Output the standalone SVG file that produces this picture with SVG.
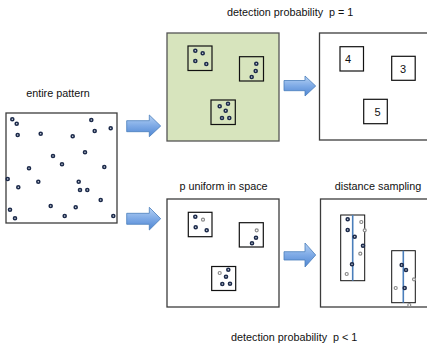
<svg xmlns="http://www.w3.org/2000/svg" width="427" height="345" viewBox="0 0 427 345">
<defs>
<linearGradient id="ag" x1="0" y1="0" x2="0" y2="1">
<stop offset="0" stop-color="#b6d2f4"/>
<stop offset="0.5" stop-color="#7eaae6"/>
<stop offset="1" stop-color="#4f86d2"/>
</linearGradient>
<circle id="d" r="1.5" fill="#dfe6f0" stroke="#1c2a4a" stroke-width="1.6"/>
<circle id="g" r="1.5" fill="#fff" stroke="#8a8a8a" stroke-width="1.2"/>
</defs>
<style>
.big{fill:#fff;stroke:#3c3c3c;stroke-width:1.3}
.grn{fill:#d7e4bd;stroke:#555;stroke-width:1.3}
.sm{fill:none;stroke:#111;stroke-width:1.2}
.tr{fill:none;stroke:#111;stroke-width:1}
.ln{stroke:#4a7ebb;stroke-width:1.6}
.arr{fill:url(#ag);stroke:#4a7ebb;stroke-width:0.8}
text{font-family:"Liberation Sans",Arial,sans-serif;font-size:10.8px;fill:#111;white-space:pre}
.num{font-size:11px;text-anchor:middle}
</style>
<rect width="427" height="345" fill="#fff"/>
<text x="227" y="16" xml:space="preserve">detection probability  p = 1</text>
<text x="231" y="341" xml:space="preserve">detection probability  p &lt; 1</text>

<g id="entire">
<text x="58" y="97" text-anchor="middle">entire pattern</text>
<rect class="big" x="6" y="113" width="111" height="110"/>
<use href="#d" x="12.3" y="119.3"/><use href="#d" x="16.7" y="123.7"/><use href="#d" x="17.7" y="135"/>
<use href="#d" x="40.7" y="133.7"/><use href="#d" x="91.3" y="120"/><use href="#d" x="94.7" y="131"/>
<use href="#d" x="110.7" y="128.3"/><use href="#d" x="72.7" y="136.3"/><use href="#d" x="85" y="152.3"/>
<use href="#d" x="53" y="156"/><use href="#d" x="62" y="164.3"/><use href="#d" x="29" y="168.3"/>
<use href="#d" x="104.3" y="167"/><use href="#d" x="7.7" y="179"/><use href="#d" x="38.3" y="181.7"/>
<use href="#d" x="78.7" y="181.7"/><use href="#d" x="18.3" y="187.3"/><use href="#d" x="80" y="190"/>
<use href="#d" x="87.3" y="190"/><use href="#d" x="100.7" y="200"/><use href="#d" x="50.7" y="206"/>
<use href="#d" x="75.7" y="207.3"/><use href="#d" x="10" y="209.7"/><use href="#d" x="15" y="218.3"/>
<use href="#d" x="64.7" y="216"/><use href="#d" x="113.3" y="216"/>
</g>

<g id="full-detection">
<rect class="grn" x="167" y="33" width="112" height="108"/>
<rect class="sm" x="188" y="46" width="24" height="24.5"/>
<use href="#d" x="195.3" y="50.7"/><use href="#d" x="202.7" y="53.3"/><use href="#d" x="195.3" y="61"/><use href="#d" x="206.3" y="64"/>
<rect class="sm" x="239.5" y="56.7" width="24" height="24.3"/>
<use href="#d" x="256.3" y="63.7"/><use href="#d" x="255.7" y="71"/><use href="#d" x="251.7" y="77"/>
<rect class="sm" x="211" y="100" width="24.3" height="24.5"/>
<use href="#d" x="219.7" y="106.3"/><use href="#d" x="228" y="103.7"/><use href="#d" x="225.7" y="110.7"/><use href="#d" x="222" y="118"/><use href="#d" x="229.3" y="118"/>
</g>

<g id="counts">
<rect class="big" x="319.5" y="33" width="110" height="107"/>
<rect class="sm" x="340" y="46.7" width="23.5" height="24.3"/>
<text class="num" x="348" y="62.5">4</text>
<rect class="sm" x="391.7" y="56.3" width="23.5" height="24"/>
<text class="num" x="403" y="73">3</text>
<rect class="sm" x="363.7" y="99.3" width="23.6" height="24.4"/>
<text class="num" x="377.5" y="116">5</text>
</g>

<g id="uniform">
<text x="223.5" y="190" text-anchor="middle">p uniform in space</text>
<rect class="big" x="167" y="199" width="112" height="108"/>
<rect class="sm" x="188.3" y="212.3" width="23.7" height="24.4"/>
<use href="#d" x="195.3" y="216.7"/><use href="#g" x="203" y="219.7"/><use href="#d" x="195.7" y="227.3"/><use href="#d" x="206.7" y="230.3"/>
<rect class="sm" x="239.3" y="222.7" width="24" height="24.3"/>
<use href="#g" x="256.7" y="230.3"/><use href="#d" x="256" y="237.7"/><use href="#d" x="252" y="243.3"/>
<rect class="sm" x="211.7" y="266.5" width="24" height="24"/>
<use href="#g" x="219.7" y="273"/><use href="#d" x="228.3" y="269.7"/><use href="#d" x="226" y="276.7"/><use href="#d" x="222.3" y="284"/><use href="#d" x="230" y="283.7"/>
</g>

<g id="distance">
<text x="378" y="190" text-anchor="middle">distance sampling</text>
<rect class="big" x="320.5" y="199" width="110" height="108"/>
<rect class="tr" x="340.7" y="215" width="24" height="65.7"/>
<line class="ln" x1="352.7" y1="215" x2="352.7" y2="280.7"/>
<use href="#d" x="347.7" y="219.3"/><use href="#g" x="361.3" y="222"/><use href="#d" x="347.7" y="230"/>
<use href="#g" x="364.7" y="230.3"/><use href="#d" x="354.7" y="236.7"/><use href="#d" x="363" y="245.7"/>
<use href="#g" x="360.3" y="253.7"/><use href="#d" x="352" y="264.3"/><use href="#g" x="346.7" y="274"/>
<rect class="tr" x="391.7" y="250.7" width="23.6" height="52"/>
<line class="ln" x1="403.3" y1="250.7" x2="403.3" y2="302.7"/>
<use href="#d" x="401.7" y="265"/><use href="#d" x="406" y="270"/><use href="#g" x="414" y="279.3"/>
<use href="#g" x="395.7" y="288"/><use href="#d" x="404.7" y="288"/><use href="#g" x="409.3" y="305"/>
</g>

<g id="connectors">
<path class="arr" d="M126.7,120.7 H149.3 V115 L160.7,126 L149.3,136.7 V131.7 H126.7 Z"/>
<path class="arr" d="M126.7,213.3 H149.3 V207.3 L160.7,218.7 L149.3,230 V224.3 H126.7 Z"/>
<path class="arr" d="M284,80.5 H305 V76 L315.7,86 L305,96 V90.7 H284 Z"/>
<path class="arr" d="M284,251.7 H305 V243 L315.7,255 L305,267 V260 H284 Z"/>
</g>
</svg>
